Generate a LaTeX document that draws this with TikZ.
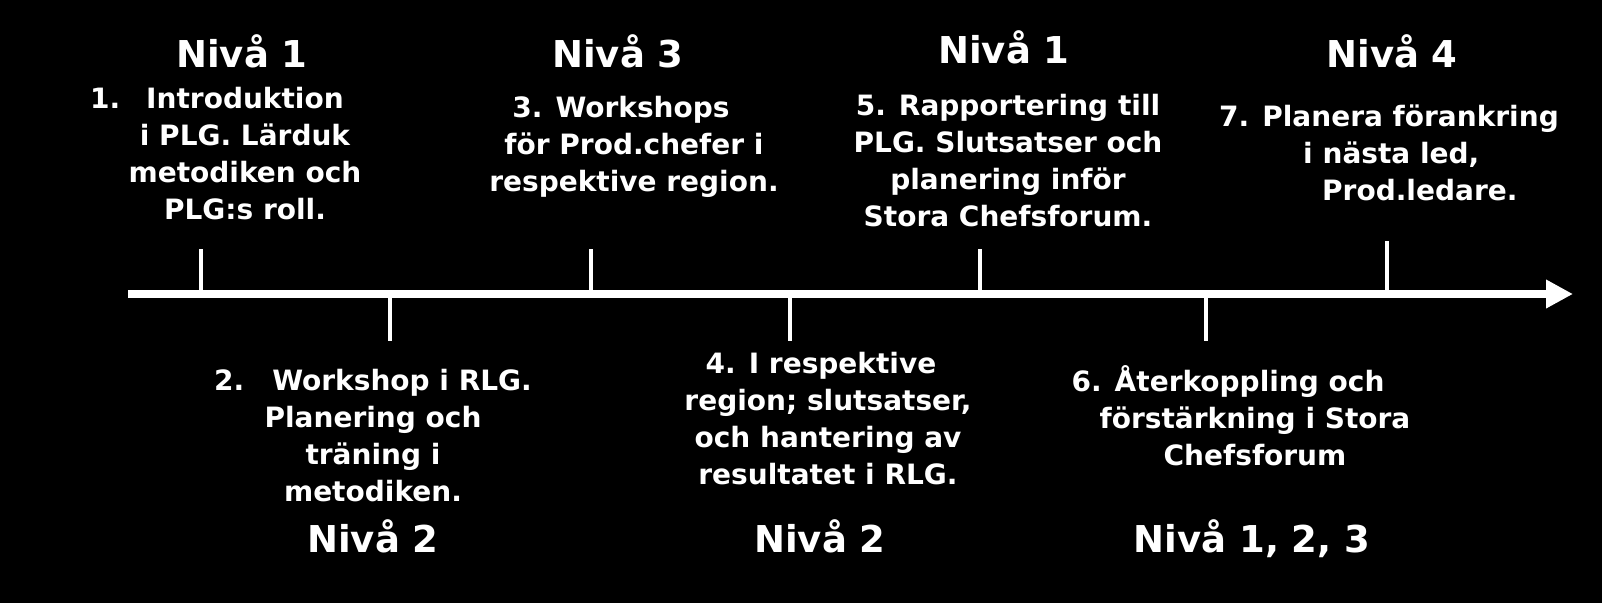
\documentclass[tikz,border=0pt]{standalone}
\usepackage{fontspec}
\setmainfont{DejaVu Sans}
\usetikzlibrary{positioning,arrows.meta}

\begin{document}
\begin{tikzpicture}[
        >={Triangle[length=27pt,width=27pt]},
        x=1pt, y=-1pt,
        lvl/.style={text=white, font=\bfseries\fontsize{37}{44}\selectfont, inner sep=0pt, anchor=base},
        txt/.style={text=white, font=\bfseries\fontsize{28}{37}\selectfont, align=center, inner sep=0pt, anchor=base},
        tick/.style={draw=white, line width=4.5pt},
        axis/.style={draw=white, line width=8pt}
    ]
      \fill[black] (0,0) rectangle (1602,603);
      \useasboundingbox (0,0) rectangle (1602,603);

      \coordinate (start) at (128,294);
      \coordinate (end) at (1573,294);

      \foreach \x/\y [count=\i] in {201/249,390/341,591/249,790/341,980/249,1206/341,1387/241}{
        \coordinate (p\i) at (\x,294);
        \coordinate (q\i) at (\x,\y);
        \draw[tick] (p\i) -- (q\i);
      }
      \draw[axis,->] (start) -- (end);

      \node[lvl] (lvl1) at (242,67) {Nivå 1};
      \node[lvl] (lvl3) at (618,67) {Nivå 3};
      \node[lvl] (lvl5) at (1004,63) {Nivå 1};
      \node[lvl] (lvl7) at (1392,67) {Nivå 4};
      \node[lvl] (lvl2) at (373,552) {Nivå 2};
      \node[lvl] (lvl4) at (820,552) {Nivå 2};
      \node[lvl] (lvl6) at (1252,552) {Nivå 1, 2, 3};

      \node[txt] (step1) at (245,219) {\llap{1.\hspace{26pt}}Introduktion\\i PLG. Lärduk\\metodiken och\\PLG:s roll.};
      \node[txt] (step3) at (634,191) {3. Workshops\hspace*{26pt}\\för Prod.chefer i\\respektive region.};
      \node[txt] (step5) at (1008,226) {5. Rapportering till\\PLG. Slutsatser och\\planering inför\\Stora Chefsforum.};
      \node[txt, align=left, anchor=base west] (step7) at (1219,200) {7. Planera förankring\\\hspace*{84pt}i nästa led,\\\hspace*{103pt}Prod.ledare.};

      \node[txt] (step2) at (373,501) {2.\hspace{28pt}Workshop i RLG.\\Planering och\\träning i\\metodiken.};
      \node[txt] (step4) at (828,484) {4. I respektive\hspace*{14pt}\\region; slutsatser,\\och hantering av\\resultatet i RLG.};
      \node[txt] (step6) at (1255,465) {6. Återkoppling och\hspace*{54pt}\\förstärkning i Stora\\Chefsforum};
    \end{tikzpicture}
\end{document}
